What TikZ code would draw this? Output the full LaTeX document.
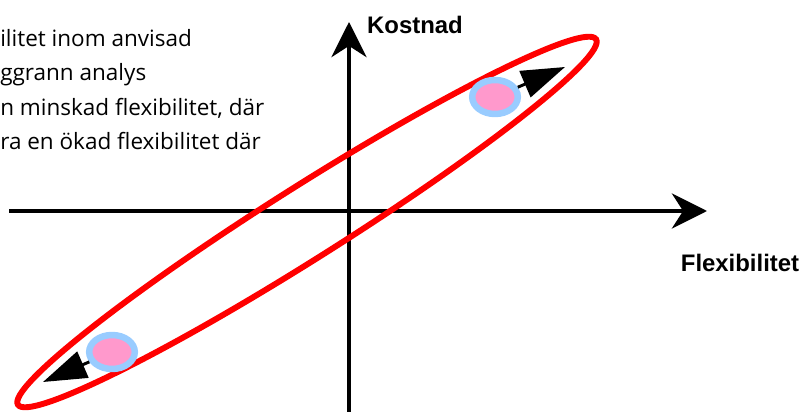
\documentclass[tikz,border=0pt]{standalone}
\usepackage{fontspec}
\setmainfont{Liberation Sans}
\newfontfamily\notefont{Open Sans}
\usetikzlibrary{arrows.meta,shapes.geometric}
\definecolor{ringblue}{RGB}{153,204,255}
\definecolor{corepink}{RGB}{255,153,204}
\definecolor{loopred}{RGB}{255,0,0}
\tikzset{
  axis/.style={line width=2.8pt,-{Stealth[length=25pt,width=25pt,inset=8pt]}},
  blob/.style={ellipse,draw=ringblue,fill=corepink,line width=4.6pt,
    minimum width=1.14cm,minimum height=0.85cm,inner sep=0pt},
  blobarrow/.style={line width=2.1pt,-{Triangle[length=31pt,width=20pt]}},
  axislabel/.style={font=\bfseries\fontsize{17}{20}\selectfont},
  note/.style={anchor=base west,inner sep=0pt,font=\notefont\fontsize{16}{19}\selectfont}
}
\begin{document}
\begin{tikzpicture}[x=0.025cm,y=-0.025cm]
  \useasboundingbox (0,0) rectangle (802,412);

  % Text (cut at the left edge)
  \node[note] (lineA) at (0,47) {ilitet inom anvisad};
  \node[note] (lineB) at (0,81) {ggrann analys};
  \node[note] (lineC) at (0,116) {n minskad flexibilitet, där};
  \node[note] (lineD) at (0,150) {ra en ökad flexibilitet där};

  % Axes
  \coordinate (xstart) at (9,211);
  \coordinate (xend) at (707,211);
  \coordinate (ystart) at (349,412);
  \coordinate (yend) at (349,22);
  \draw[axis] (xstart) -- (xend);
  \draw[axis] (ystart) -- (yend);
  \node[axislabel] (cost) at (415,25) {Kostnad};
  \node[axislabel] (flex) at (740,263) {Flexibilitet};

  % Red loop round both positions
  \draw[loopred,line width=4.2pt,rotate around={32.3:(307,222)}]
    (307,222) ellipse [x radius=342,y radius=36];

  % Positions with arrows outwards
  \node[blob] (upper) at (495,97) {};
  \node[blob] (lower) at (112,352) {};
  \coordinate (uppertip) at (565,67);
  \coordinate (lowertip) at (43,382);
  \draw[blobarrow] (upper) -- (uppertip);
  \draw[blobarrow] (lower) -- (lowertip);
\end{tikzpicture}
\end{document}
